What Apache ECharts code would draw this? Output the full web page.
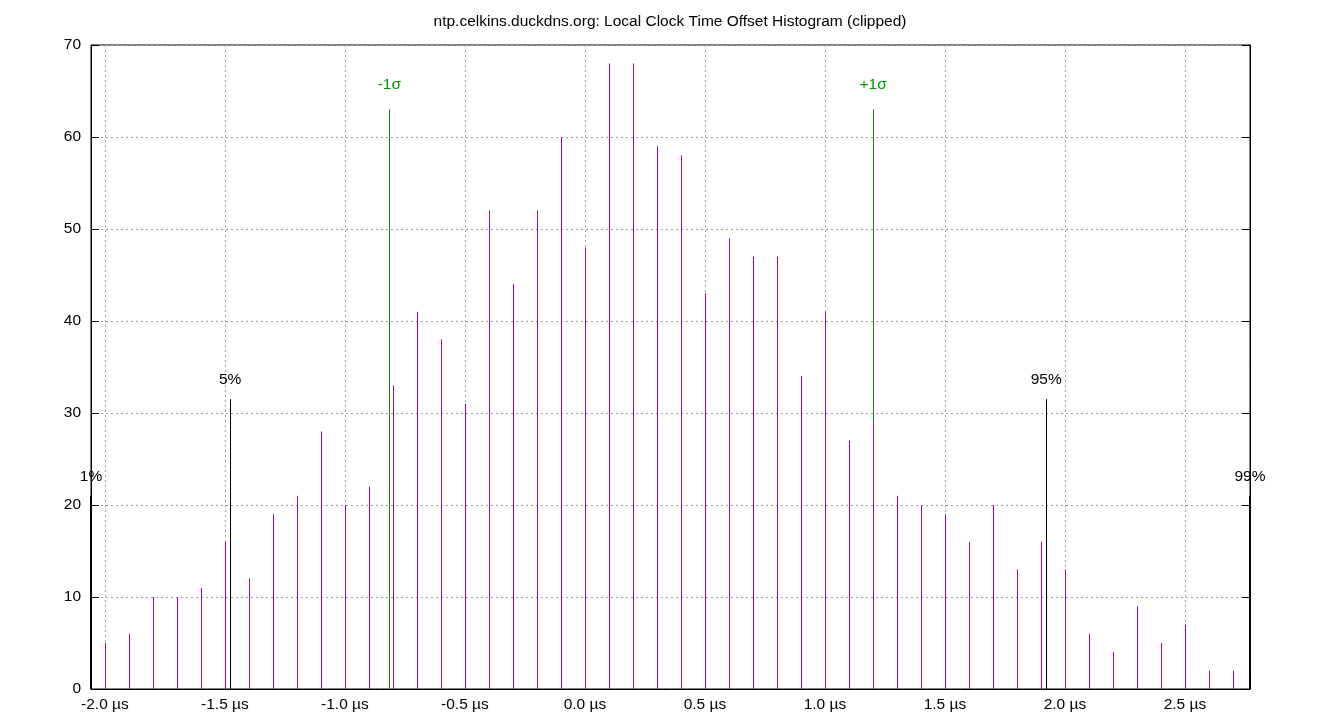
<!DOCTYPE html>
<html>
<head>
<meta charset="utf-8">
<title>Local Clock Time Offset Histogram</title>
<script src="https://cdn.jsdelivr.net/npm/echarts@6/dist/echarts.min.js"></script>
<style>
  html, body { margin: 0; padding: 0; background: #fff; }
  #main { width: 1340px; height: 720px; }
</style>
</head>
<body>
<div id="main"></div>
<script>
// histogram bins (µs) and counts
var binCenters = [-2.0, -1.9, -1.8, -1.7, -1.6, -1.5, -1.4, -1.3, -1.2, -1.1,
  -1.0, -0.9, -0.8, -0.7, -0.6, -0.5, -0.4, -0.3, -0.2, -0.1,
  0.0, 0.1, 0.2, 0.3, 0.4, 0.5, 0.6, 0.7, 0.8, 0.9,
  1.0, 1.1, 1.2, 1.3, 1.4, 1.5, 1.6, 1.7, 1.8, 1.9,
  2.0, 2.1, 2.2, 2.3, 2.4, 2.5, 2.6, 2.7]
var counts = [5, 6, 10, 10, 11, 16, 12, 19, 21, 28,
  20, 22, 33, 41, 38, 31, 52, 44, 52, 60,
  48, 68, 68, 59, 58, 43, 49, 47, 47, 34,
  41, 27, 29, 21, 20, 19, 16, 20, 13, 16,
  13, 6, 4, 9, 5, 7, 2, 2]

// percentile / sigma markers
var markerNames = ['1%', '5%', '-1σ', '+1σ', '95%', '99%']
var markerX = [-2.058, -1.478, -0.815, 1.201, 1.922, 2.771]
var markerHeight = [21, 31.5, 63, 63, 31.5, 21]
var markerIsSigma = [false, false, true, true, false, false]

var xTicks = [-2.0, -1.5, -1.0, -0.5, 0.0, 0.5, 1.0, 1.5, 2.0, 2.5]
var xMin = -2.058
var xMax = 2.771

var FONT = 'Liberation Sans, Arial, sans-serif'
var FONT_SIZE = 15.5
var GREEN_TEXT = '#009900'
var GREEN_LINE = '#108a10'
var VIOLET = '#9400d3'

var myChart = echarts.init(document.getElementById('main'), null, { renderer: 'canvas' })

var barData = binCenters.map(function (x, i) { return [x, counts[i]] })
var markerData = markerX.map(function (x, i) { return [x, markerHeight[i]] })

// 1px impulse, snapped to the same pixel column as the grid lines
function impulse(api, color, width) {
  var top = api.coord([api.value(0), api.value(1)])
  var base = api.coord([api.value(0), 0])
  var w = width || 1
  var x = w % 2 ? Math.round(top[0]) + 0.5 : Math.round(top[0])
  return {
    type: 'line',
    shape: { x1: x, y1: base[1], x2: x, y2: top[1] },
    style: { stroke: color, lineWidth: w }
  }
}

var option = {
  animation: false,
  backgroundColor: '#fff',
  textStyle: { fontFamily: FONT },
  title: {
    text: 'ntp.celkins.duckdns.org: Local Clock Time Offset Histogram (clipped)',
    left: 'center',
    top: 9,
    textStyle: { fontFamily: FONT, fontSize: FONT_SIZE, fontWeight: 'normal', color: '#000' }
  },
  grid: {
    left: 91,
    right: 90,
    top: 45,
    bottom: 31,
    show: true,
    borderColor: '#000',
    borderWidth: 1,
    backgroundColor: 'transparent'
  },
  xAxis: {
    type: 'value',
    min: xMin,
    max: xMax,
    axisLine: { show: true, onZero: false, lineStyle: { color: '#000', width: 1 } },
    axisTick: { show: true, inside: true, length: 8, customValues: xTicks, lineStyle: { color: '#000' } },
    axisLabel: {
      customValues: xTicks,
      margin: 8,
      color: '#000',
      fontFamily: FONT,
      fontSize: FONT_SIZE,
      formatter: function (v) { return v.toFixed(1) + ' µs' }
    },
    splitLine: { show: true, lineStyle: { color: '#a0a0a0', type: [2, 3], width: 1 } }
  },
  yAxis: [
    {
      type: 'value',
      min: 0,
      max: 70,
      interval: 10,
      axisLine: { show: true, onZero: false, lineStyle: { color: '#000' } },
      axisTick: { show: true, inside: true, length: 8, lineStyle: { color: '#000' } },
      axisLabel: { margin: 10, color: '#000', fontFamily: FONT, fontSize: FONT_SIZE },
      splitLine: { show: true, lineStyle: { color: '#a0a0a0', type: [2, 3], width: 1 } }
    },
    {
      type: 'value',
      position: 'right',
      min: 0,
      max: 70,
      interval: 10,
      axisLine: { show: true, onZero: false, lineStyle: { color: '#000' } },
      axisTick: { show: true, inside: true, length: 8, lineStyle: { color: '#000' } },
      axisLabel: { show: false },
      splitLine: { show: false }
    }
  ],
  series: [
    {
      name: 'markers',
      type: 'custom',
      z: 2,
      clip: false,
      silent: true,
      data: markerData,
      renderItem: function (params, api) {
        var i = params.dataIndex
        var sigma = markerIsSigma[i]
        // the 1% / 99% lines sit on the frame and look heavier there
        var edge = i === 0 || i === markerNames.length - 1
        var line = impulse(api, sigma ? GREEN_LINE : '#000', edge ? 2 : 1)
        var top = api.coord([api.value(0), api.value(1)])
        return {
          type: 'group',
          children: [
            line,
            {
              type: 'text',
              x: top[0],
              y: top[1] - (sigma ? 17 : 11),
              style: {
                text: markerNames[i],
                fill: sigma ? GREEN_TEXT : '#000',
                font: FONT_SIZE + 'px ' + FONT,
                align: 'center',
                verticalAlign: 'bottom'
              }
            }
          ]
        }
      }
    },
    {
      name: 'offset',
      type: 'custom',
      z: 3,
      silent: true,
      data: barData,
      renderItem: function (params, api) {
        return impulse(api, VIOLET)
      }
    }
  ]
}

myChart.setOption(option)
</script>
</body>
</html>
